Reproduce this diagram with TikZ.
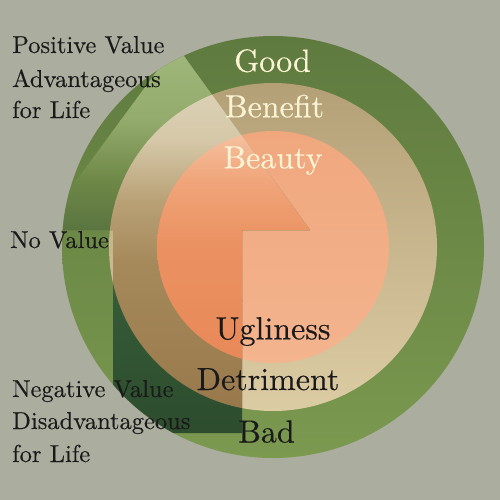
\documentclass[tikz,border=0pt]{standalone}
\usepackage{fontspec}
\newfontfamily\lblfont{lmroman10-regular.otf}[FakeBold=0.3]
\definecolor{bg}{HTML}{ABAD9F}
\definecolor{gTop}{HTML}{5F7A3F}
\definecolor{gBot}{HTML}{7B994F}
\definecolor{tTop}{HTML}{B4A077}
\definecolor{tBot}{HTML}{DCCCA4}
\definecolor{oTop}{HTML}{F0A77E}
\definecolor{oBot}{HTML}{F3B48E}
\definecolor{cream}{HTML}{FBF4D4}
\definecolor{ink}{HTML}{1A1A1A}
% overlay shape colours
\definecolor{sgA}{HTML}{A4BA80}
\definecolor{sgB}{HTML}{93AB6C}
\definecolor{sgC}{HTML}{6E8848}
\definecolor{sgD}{HTML}{5A7440}
\definecolor{sgE}{HTML}{355A36}
\definecolor{sgF}{HTML}{2B4A2C}
\definecolor{stA}{HTML}{DDD3B8}
\definecolor{stB}{HTML}{D5C8A8}
\definecolor{stC}{HTML}{B9A176}
\definecolor{stD}{HTML}{A68A5C}
\definecolor{stE}{HTML}{98784A}
\definecolor{soA}{HTML}{F5C4A4}
\definecolor{soB}{HTML}{F0A57A}
\definecolor{soC}{HTML}{EB9262}
\definecolor{soD}{HTML}{E88858}
\tikzset{
  circlbl/.style={inner sep=0pt, anchor=base, font=\lblfont\fontsize{32}{38}\selectfont},
  sidelbl/.style={inner sep=0pt, anchor=base west, text=ink, font=\lblfont\fontsize{24.5}{32}\selectfont},
}
\begin{document}
\begin{tikzpicture}[x=1pt,y=-1pt]
\useasboundingbox (0,0) rectangle (500,500);
\fill[bg] (0,0) rectangle (500,500);
\coordinate (C) at (273,247);
% base circles
\shade[top color=gTop,bottom color=gBot] (C) circle[radius=211];
\shade[top color=tTop,bottom color=tBot] (C) circle[radius=164];
\shade[top color=oTop,bottom color=oBot] (C) circle[radius=116];
% overlay shape
\begin{scope}
  \clip (176,45) -- (310,230) -- (242,230) -- (242,433) -- (113,433) -- (113,230) -- (40,230) -- cycle;
  \begin{scope}
    \clip (C) circle[radius=211];
    \shade[top color=sgA,bottom color=sgB] (0,30) rectangle (500,121);
    \shade[top color=sgB,bottom color=sgC] (0,120) rectangle (500,181);
    \shade[top color=sgC,bottom color=sgD] (0,180) rectangle (500,231);
    \shade[top color=sgD,bottom color=sgE] (0,230) rectangle (500,301);
    \shade[top color=sgE,bottom color=sgF] (0,300) rectangle (500,460);
  \end{scope}
  \begin{scope}
    \clip (C) circle[radius=164];
    \shade[top color=stA,bottom color=stB] (0,80) rectangle (500,141);
    \shade[top color=stB,bottom color=stC] (0,140) rectangle (500,201);
    \shade[top color=stC,bottom color=stD] (0,200) rectangle (500,261);
    \shade[top color=stD,bottom color=stE] (0,260) rectangle (500,415);
  \end{scope}
  \begin{scope}
    \clip (C) circle[radius=116];
    \shade[top color=soA,bottom color=soB] (0,128) rectangle (500,181);
    \shade[top color=soB,bottom color=soC] (0,180) rectangle (500,241);
    \shade[top color=soC,bottom color=soD] (0,240) rectangle (500,366);
  \end{scope}
\end{scope}
% circle labels
\node[circlbl, text=cream] (good) at (272.5,71.7) {Good};
\node[circlbl, text=cream] (benefit) at (274.5,117.3) {Benefit};
\node[circlbl, text=cream] (beauty) at (273,168.3) {Beauty};
\node[circlbl, text=ink] (ugliness) at (273,339.3) {Ugliness};
\node[circlbl, text=ink] (detriment) at (268,390) {Detriment};
\node[circlbl, text=ink] (bad) at (266.5,442.5) {Bad};
% side labels
\node[sidelbl] (posv) at (12,53) {Positive Value};
\node[sidelbl] (adv) at (12,87) {Advantageous};
\node[sidelbl] (life1) at (12,118) {for Life};
\node[sidelbl] (noval) at (10,248) {No Value};
\node[sidelbl] (negv) at (12,397) {Negative Value};
\node[sidelbl] (disadv) at (12,429) {Disadvantageous};
\node[sidelbl] (life2) at (12,462) {for Life};
\end{tikzpicture}
\end{document}
